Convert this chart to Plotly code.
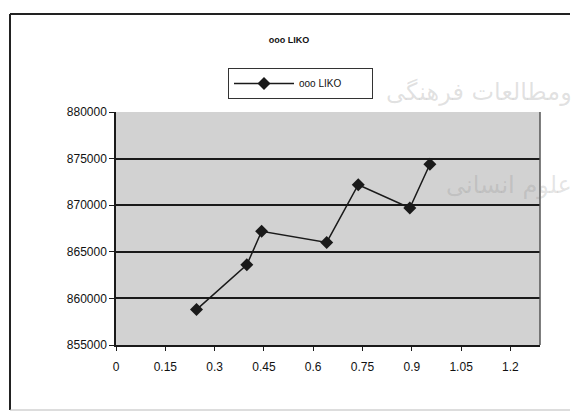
import plotly.graph_objects as go

# Series values
x_vals = [0.245, 0.398, 0.443, 0.641, 0.737, 0.894, 0.955]
y_vals = [858800, 863600, 867200, 866000, 872200, 869700, 874400]

series_name = "ooo LIKO"
chart_title = "ooo LIKO"

x_ticks = [0, 0.15, 0.3, 0.45, 0.6, 0.75, 0.9, 1.05, 1.2]
x_tick_text = ["0", "0.15", "0.3", "0.45", "0.6", "0.75", "0.9", "1.05", "1.2"]
y_ticks = [855000, 860000, 865000, 870000, 875000, 880000]
y_tick_text = ["855000", "860000", "865000", "870000", "875000", "880000"]

font_family = "Liberation Sans, Arial, sans-serif"

# Plot-area geometry in pixels, used to place paper-space items
PL, PR, PT, PB = 116, 540, 112, 345
PW, PH = PR - PL, PB - PT


def px(x):
    return (x - PL) / PW


def py(y):
    return (PB - y) / PH


fig = go.Figure()
fig.add_trace(go.Scatter(
    x=x_vals, y=y_vals, mode="lines+markers",
    name=series_name + "\u00a0" * 9,
    line=dict(color="#1a1a1a", width=1.5),
    marker=dict(symbol="diamond", size=10, color="#1a1a1a"),
    showlegend=True,
))

fig.update_layout(
    width=578, height=419,
    margin=dict(l=PL, r=578 - PR, t=PT, b=419 - PB),
    paper_bgcolor="white",
    plot_bgcolor="#d2d2d2",
    font=dict(family=font_family, color="#111111", size=11),
    title=dict(text="<b>" + chart_title + "</b>", x=0.5, xanchor="center",
               y=1 - 40 / 419, yanchor="middle", font=dict(size=9)),
    legend=dict(x=px(228), y=py(68), xanchor="left", yanchor="top",
                bgcolor="white", bordercolor="#333333", borderwidth=1,
                font=dict(size=10), itemwidth=60),
    xaxis=dict(range=[0, 1.29], tickvals=x_ticks, ticktext=x_tick_text,
               showgrid=False, zeroline=False, showline=True, linecolor="#1a1a1a",
               linewidth=1.5, ticks="outside", ticklen=4, tickcolor="#1a1a1a",
               ticklabelstandoff=6, tickfont=dict(size=12)),
    yaxis=dict(range=[855000, 880000], tickvals=y_ticks, ticktext=y_tick_text,
               showgrid=True, gridcolor="#1a1a1a", gridwidth=1.5, zeroline=False,
               showline=True, linecolor="#1a1a1a", linewidth=1.5, ticks="outside",
               ticklen=5, tickcolor="#1a1a1a", tickfont=dict(size=12)),
)

# Right edge of the plot frame
fig.add_shape(type="line", xref="paper", yref="paper", x0=1, x1=1, y0=0, y1=1,
              line=dict(color="#555555", width=1.5))

# Outer chart border (left, top, bottom)
fig.add_shape(type="line", xref="paper", yref="paper",
              x0=px(10), x1=px(10), y0=py(410), y1=py(14),
              line=dict(color="#222222", width=2))
fig.add_shape(type="line", xref="paper", yref="paper",
              x0=px(10), x1=px(570), y0=py(14), y1=py(14),
              line=dict(color="#222222", width=2))
fig.add_shape(type="line", xref="paper", yref="paper",
              x0=px(10), x1=px(570), y0=py(410), y1=py(410),
              line=dict(color="#bbbbbb", width=1))

# Faint stamp text across the upper right
fig.add_annotation(text="ومطالعات فرهنگی", xref="paper", yref="paper",
                   x=px(574), y=py(92), xanchor="right", yanchor="middle",
                   showarrow=False, font=dict(size=24, color="rgba(120,120,120,0.22)",
                                              family="DejaVu Sans"))
fig.add_annotation(text="علوم انسانی", xref="paper", yref="paper",
                   x=px(574), y=py(185), xanchor="right", yanchor="middle",
                   showarrow=False, font=dict(size=24, color="rgba(120,120,120,0.2)",
                                              family="DejaVu Sans"))

fig.write_html("out.html")
